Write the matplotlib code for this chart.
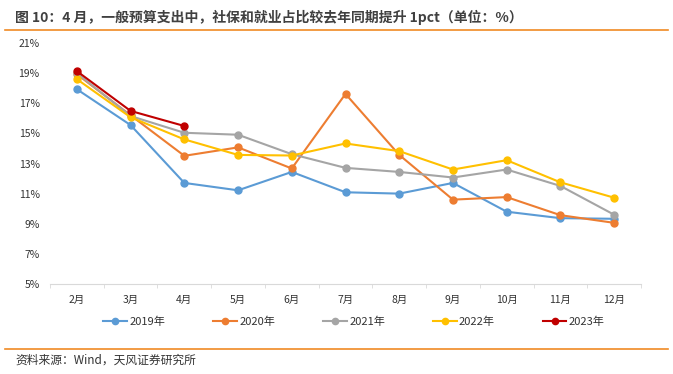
import matplotlib
matplotlib.use("Agg")
import matplotlib.pyplot as plt
from matplotlib.lines import Line2D

plt.rcParams["font.family"] = ["Noto Sans CJK SC", "DejaVu Sans"]

months = ["2月", "3月", "4月", "5月", "6月", "7月", "8月", "9月", "10月", "11月", "12月"]
y2019 = [17.93, 15.55, 11.71, 11.22, 12.44, 11.09, 11.00, 11.71, 9.80, 9.37, 9.33]
y2020 = [18.93, 16.20, 13.51, 14.07, 12.67, 17.62, 13.57, 10.60, 10.77, 9.57, 9.06]
y2021 = [19.00, 16.15, 15.04, 14.91, 13.62, 12.71, 12.44, 12.07, 12.60, 11.51, 9.60]
y2022 = [18.60, 16.07, 14.60, 13.57, 13.53, 14.33, 13.82, 12.60, 13.22, 11.75, 10.73]
y2023 = [19.13, 16.49, 15.49]

series = [
    ("2019年", y2019, "#5B9BD5"),
    ("2020年", y2020, "#ED7D31"),
    ("2021年", y2021, "#A5A5A5"),
    ("2022年", y2022, "#FFC000"),
    ("2023年", y2023, "#C00000"),
]

fig = plt.figure(figsize=(6.73, 3.74), dpi=100)
ax = fig.add_axes([50 / 673, 1 - 284 / 374, 591 / 673, 241 / 374])

for label, vals, color in series:
    ax.plot(range(len(vals)), vals, color=color, lw=1.5, marker="o", ms=5,
            label=label, zorder=3)

ax.set_xlim(-0.5, len(months) - 0.5)
ax.set_ylim(5, 21)
ax.set_yticks(range(5, 22, 2))
ax.set_yticklabels([f"{v}%" for v in range(5, 22, 2)])
ax.set_xticks(range(len(months)))
ax.set_xticklabels(months)
ax.set_xticks([i - 0.5 for i in range(len(months) + 1)], minor=True)
ax.tick_params(axis="x", which="major", length=0, pad=8, labelsize=7.5, colors="#333333")
ax.tick_params(axis="x", which="minor", length=3, color="#D9D9D9", direction="out")
ax.tick_params(axis="y", length=0, pad=7.5, labelsize=7.5, colors="#333333")
for s in ["top", "right", "left"]:
    ax.spines[s].set_visible(False)
ax.spines["bottom"].set_color("#D9D9D9")

handles = [Line2D([0], [0], color=c, lw=1.5, marker="o", ms=4.5) for _, _, c in series]
fig.legend(handles, [s[0] for s in series], loc="center", ncol=5,
           bbox_to_anchor=(354 / 673, 1 - 322 / 374), frameon=False, fontsize=8,
           handlelength=2.15, columnspacing=4.3, handletextpad=0.2,
           labelcolor="#333333")

# title and source
fig.text(15 / 673, 1 - 17 / 374, "图 10：4 月，一般预算支出中，社保和就业占比较去年同期提升 1pct（单位：%）",
         fontsize=10, fontweight="bold", color="#404040", va="center")
fig.add_artist(Line2D([5 / 673, 668 / 673], [1 - 29.5 / 374] * 2, color="#F08A24", lw=1.2))
fig.add_artist(Line2D([5 / 673, 668 / 673], [1 - 348.5 / 374] * 2, color="#F08A24", lw=1.2))
fig.text(15 / 673, 1 - 360 / 374, "资料来源：Wind，天风证券研究所", fontsize=8.5,
         color="#333333", va="center")

fig.savefig("out.png", dpi=100)
plt.close(fig)
